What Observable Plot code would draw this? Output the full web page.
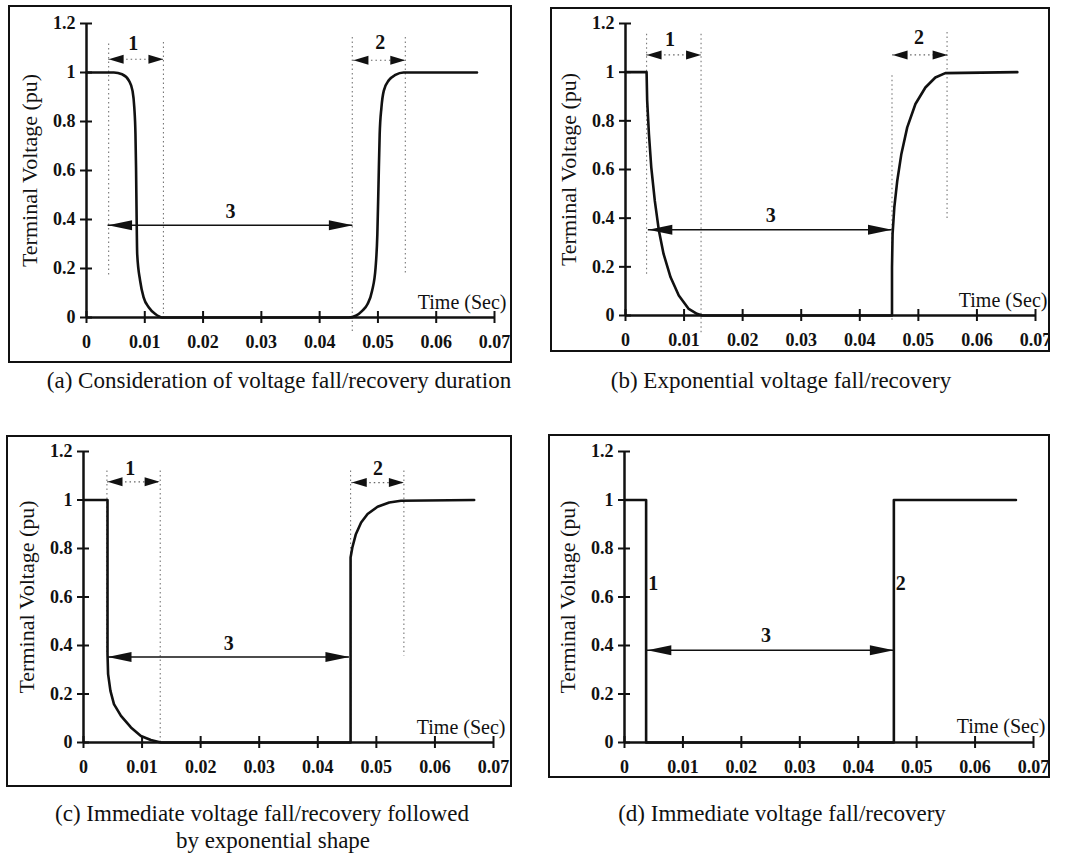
<!DOCTYPE html>
<html><head><meta charset="utf-8">
<script src="https://cdn.jsdelivr.net/npm/d3@7"></script>
<script src="https://cdn.jsdelivr.net/npm/@observablehq/plot@0.6"></script>
<style>
body{margin:0;background:#fff;}
#root{position:relative;width:1069px;height:855px;background:#fff;font-family:"Liberation Serif","Times New Roman",serif;color:#111;}
.box{position:absolute;border:2px solid #111;box-sizing:border-box;pointer-events:none;}
.panel{position:absolute;}
.cap{position:absolute;font-size:23px;text-align:center;line-height:27px;white-space:nowrap;width:600px;}
</style></head><body><div id="root"></div>
<script>
// ---------- data ----------
const xTicks = [0, 0.01, 0.02, 0.03, 0.04, 0.05, 0.06, 0.07];
const xTickLabels = ["0", "0.01", "0.02", "0.03", "0.04", "0.05", "0.06", "0.07"];
const yTicks = [0, 0.2, 0.4, 0.6, 0.8, 1, 1.2];
const yTickLabels = ["0", "0.2", "0.4", "0.6", "0.8", "1", "1.2"];
const yTitle = "Terminal Voltage (pu)";
const xTitle = "Time (Sec)";

// (a)
const timeA = [0, 0.0040, 0.0047, 0.0061, 0.0073, 0.0079, 0.0082, 0.0084, 0.0085, 0.0086, 0.0087, 0.0092, 0.0098, 0.0107, 0.0118, 0.0130,
               0.0450, 0.0462, 0.0473, 0.0482, 0.0490, 0.0496, 0.0499, 0.0501, 0.0503, 0.0506, 0.0510, 0.0519, 0.0530, 0.0544, 0.0670];
const voltA = [1, 1, 1.0, 0.993, 0.966, 0.925, 0.857, 0.748, 0.612, 0.408, 0.258, 0.150, 0.082, 0.041, 0.014, 0,
               0, 0.007, 0.027, 0.054, 0.109, 0.204, 0.340, 0.544, 0.748, 0.857, 0.925, 0.969, 0.990, 1.0, 1.0];
const guideXA = [0.0038, 0.0132, 0.0456, 0.0547];
const guideTopA = [1.116, 1.122, 1.143, 1.143];
const guideBottomA = [0.163, 0, -0.068, 0.177];
const arrowStartA = [0.0038, 0.0458, 0.0037];
const arrowEndA = [0.0132, 0.0547, 0.0457];
const arrowYA = [1.054, 1.050, 0.377];
const arrowKindA = ["dotted", "dotted", "solid"];
const labelTextA = ["1", "2", "3"];
const labelXA = [0.0080, 0.0504, 0.0247];
const labelYA = [1.118, 1.122, 0.433];
const timeLabelYA = 0.061;
const captionA = ["(a) Consideration of voltage fall/recovery duration"];

// (b)
const timeB = [0, 0.0036, 0.0037, 0.0040, 0.0044, 0.0050, 0.0057, 0.0065, 0.0077, 0.0091, 0.0108, 0.0122, 0.0131,
               0.0455, 0.0455, 0.0456, 0.0459, 0.0464, 0.0471, 0.0481, 0.0495, 0.0512, 0.0529, 0.0546, 0.0669];
const voltB = [1, 1, 0.883, 0.746, 0.609, 0.472, 0.349, 0.253, 0.157, 0.082, 0.027, 0.007, 0,
               0, 0.198, 0.335, 0.445, 0.554, 0.664, 0.773, 0.869, 0.937, 0.978, 0.996, 1.0];
const guideXB = [0.0036, 0.0129, 0.0455, 0.0549];
const guideTopB = [1.156, 1.156, 0.985, 1.163];
const guideBottomB = [0.157, -0.075, -0.02, 0.39];
const arrowStartB = [0.0036, 0.0456, 0.0039];
const arrowEndB = [0.0129, 0.0550, 0.0455];
const arrowYB = [1.071, 1.071, 0.352];
const arrowKindB = ["dotted", "dotted", "solid"];
const labelTextB = ["1", "2", "3"];
const labelXB = [0.0076, 0.0501, 0.0248];
const labelYB = [1.132, 1.143, 0.41];
const timeLabelYB = 0.062;
const captionB = ["(b) Exponential voltage fall/recovery"];

// (c)
const timeC = [0, 0.0041, 0.0041, 0.0042, 0.0046, 0.0052, 0.0064, 0.0081, 0.0098, 0.0115, 0.0132,
               0.0456, 0.0456, 0.0459, 0.0465, 0.0474, 0.0485, 0.0502, 0.0522, 0.0542, 0.0667];
const voltC = [1, 1, 0.364, 0.282, 0.213, 0.158, 0.110, 0.062, 0.027, 0.010, 0,
               0, 0.763, 0.804, 0.859, 0.907, 0.942, 0.972, 0.990, 0.997, 1.0];
const guideXC = [0.0040, 0.0131, 0.0456, 0.0547];
const guideTopC = [1.12, 1.12, 1.12, 1.12];
const guideBottomC = [0.364, 0, 0, 0.357];
const arrowStartC = [0.0041, 0.0458, 0.0041];
const arrowEndC = [0.0130, 0.0547, 0.0454];
const arrowYC = [1.075, 1.072, 0.353];
const arrowKindC = ["dotted", "dotted", "solid"];
const labelTextC = ["1", "2", "3"];
const labelXC = [0.0080, 0.0503, 0.0248];
const labelYC = [1.131, 1.131, 0.408];
const timeLabelYC = 0.062;
const captionC = ["(c)  Immediate voltage fall/recovery followed", "by exponential shape"];

// (d)
const timeD = [0, 0.0037, 0.0037, 0.0461, 0.0461, 0.0670];
const voltD = [1, 1, 0, 0, 1, 1];
const guideXD = [];
const guideTopD = [];
const guideBottomD = [];
const arrowStartD = [0.0039];
const arrowEndD = [0.0461];
const arrowYD = [0.38];
const arrowKindD = ["solid"];
const labelTextD = ["1", "2", "3"];
const labelXD = [0.0049, 0.0473, 0.0242];
const labelYD = [0.654, 0.654, 0.442];
const timeLabelYD = 0.064;
const captionD = ["(d) Immediate voltage fall/recovery"];

// ---------- layout (pixels) ----------
const layout = [
  {box: [8, 5, 504, 358], m: [18, 18, 46, 78], curve: "monotone-x", cap: [279, 380], capCenters: [279]},
  {box: [550, 7, 500, 345], m: [16, 15, 37, 75], curve: "linear", cap: [781, 380], capCenters: [781]},
  {box: [6, 435, 506, 352], m: [16, 19, 45, 77], curve: "linear", cap: [262, 813], capCenters: [262, 273]},
  {box: [548, 434, 502, 344], m: [17, 17, 36, 76], curve: "linear", cap: [782, 813], capCenters: [782]}
];

const panels = [
  {time: timeA, volt: voltA, gx: guideXA, gt: guideTopA, gb: guideBottomA, as: arrowStartA, ae: arrowEndA, ay: arrowYA, ak: arrowKindA, lt: labelTextA, lx: labelXA, ly: labelYA, tly: timeLabelYA, cap: captionA},
  {time: timeB, volt: voltB, gx: guideXB, gt: guideTopB, gb: guideBottomB, as: arrowStartB, ae: arrowEndB, ay: arrowYB, ak: arrowKindB, lt: labelTextB, lx: labelXB, ly: labelYB, tly: timeLabelYB, cap: captionB},
  {time: timeC, volt: voltC, gx: guideXC, gt: guideTopC, gb: guideBottomC, as: arrowStartC, ae: arrowEndC, ay: arrowYC, ak: arrowKindC, lt: labelTextC, lx: labelXC, ly: labelYC, tly: timeLabelYC, cap: captionC},
  {time: timeD, volt: voltD, gx: guideXD, gt: guideTopD, gb: guideBottomD, as: arrowStartD, ae: arrowEndD, ay: arrowYD, ak: arrowKindD, lt: labelTextD, lx: labelXD, ly: labelYD, tly: timeLabelYD, cap: captionD}
];

function head(dir, L, H) {
  return {draw(ctx) {
    ctx.moveTo(0, 0);
    ctx.lineTo(-dir * L, -H / 2);
    ctx.lineTo(-dir * L, H / 2);
    ctx.closePath();
  }};
}
const headLSmall = head(-1, 15, 9), headRSmall = head(1, 15, 9);
const headLBig = head(-1, 24, 10), headRBig = head(1, 24, 10);

const root = document.getElementById("root");
const font = '"Liberation Serif","Times New Roman",serif';

panels.forEach((p, k) => {
  const L = layout[k];
  const [bx, by, bw, bh] = L.box;
  const [mt, mr, mb, ml] = L.m;
  const curveData = p.time.map((t, i) => ({t, v: p.volt[i]}));
  const guides = p.gx.map((x, i) => ({x, y1: p.gt[i], y2: p.gb[i]}));
  const arrows = p.as.map((x1, i) => ({x1, x2: p.ae[i], y: p.ay[i], kind: p.ak[i]}));
  const dotted = arrows.filter(a => a.kind === "dotted");
  const solid = arrows.filter(a => a.kind === "solid");
  const labels = p.lt.map((text, i) => ({text, x: p.lx[i], y: p.ly[i]}));
  const xEnd = xTicks[xTicks.length - 1];

  const chart = Plot.plot({
    width: bw, height: bh,
    marginTop: mt, marginRight: mr, marginBottom: mb, marginLeft: ml,
    x: {domain: [0, xEnd]},
    y: {domain: [0, yTicks[yTicks.length - 1]]},
    style: {fontFamily: font, background: "white", overflow: "hidden", color: "#111"},
    marks: [
      Plot.ruleX(guides, {x: "x", y1: "y1", y2: "y2", stroke: "#777", strokeWidth: 1.1, strokeDasharray: "1.5,3"}),
      Plot.ruleX([0], {strokeWidth: 2.5}),
      Plot.ruleY([0], {strokeWidth: 2.5}),
      Plot.axisX({ticks: xTicks, tickFormat: d => xTickLabels[xTicks.indexOf(d)], tickSize: 12, dy: -6, tickPadding: 12,
                  strokeWidth: 2, fontSize: 18, fontWeight: "bold", label: null}),
      Plot.axisY({ticks: yTicks, tickFormat: d => yTickLabels[yTicks.indexOf(d)], tickSize: 12, dx: 6, tickPadding: 5,
                  strokeWidth: 2, fontSize: 18, fontWeight: "bold", label: null}),
      Plot.ruleY(dotted, {x1: "x1", x2: "x2", y: "y", stroke: "#666", strokeWidth: 1.2, strokeDasharray: "1.5,3"}),
      Plot.ruleY(solid, {x1: "x1", x2: "x2", y: "y", stroke: "#111", strokeWidth: 1.5}),
      Plot.dot(dotted, {x: "x1", y: "y", symbol: headLSmall, fill: "#111", stroke: "none"}),
      Plot.dot(dotted, {x: "x2", y: "y", symbol: headRSmall, fill: "#111", stroke: "none"}),
      Plot.dot(solid, {x: "x1", y: "y", symbol: headLBig, fill: "#111", stroke: "none"}),
      Plot.dot(solid, {x: "x2", y: "y", symbol: headRBig, fill: "#111", stroke: "none"}),
      Plot.line(curveData, {x: "t", y: "v", strokeWidth: 2.6, curve: L.curve, stroke: "#111"}),
      Plot.text(labels, {x: "x", y: "y", text: "text", fontSize: 20, fontWeight: "bold"}),
      Plot.text([xTitle], {x: () => xEnd, y: () => p.tly, text: d => d, textAnchor: "end", dx: 12, fontSize: 20, letterSpacing: 0.5}),
      Plot.text([yTitle], {frameAnchor: "left", textAnchor: "middle", lineAnchor: "middle", rotate: -90, dx: -57, text: d => d, fontSize: 22})
    ]
  });
  const wrap = document.createElement("div");
  wrap.className = "panel";
  wrap.style.left = bx + "px"; wrap.style.top = by + "px";
  wrap.appendChild(chart);
  root.appendChild(wrap);
  const box = document.createElement("div");
  box.className = "box";
  box.style.left = bx + "px"; box.style.top = by + "px";
  box.style.width = bw + "px"; box.style.height = bh + "px";
  root.appendChild(box);
  p.cap.forEach((line, j) => {
    const c = document.createElement("div");
    c.className = "cap";
    c.textContent = line;
    const cx = L.capCenters[j] !== undefined ? L.capCenters[j] : L.capCenters[0];
    c.style.left = (cx - 300) + "px";
    c.style.top = (L.cap[1] + j * 27 - 13.5) + "px";
    root.appendChild(c);
  });
});
</script>
</body></html>
